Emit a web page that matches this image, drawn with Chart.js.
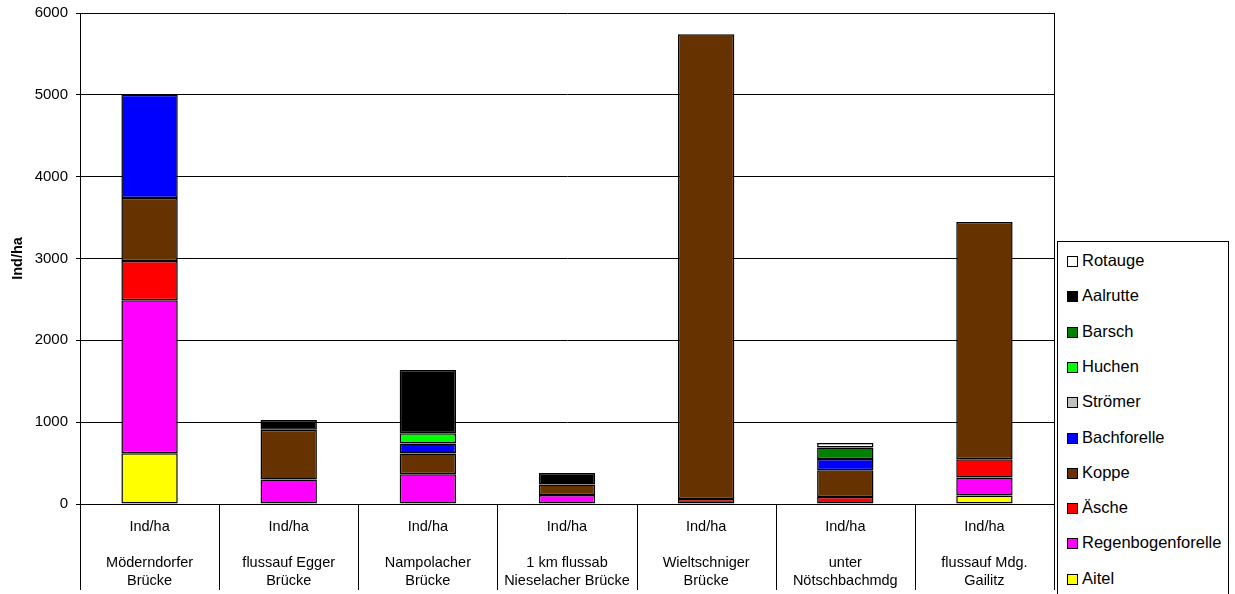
<!DOCTYPE html>
<html>
<head>
<meta charset="utf-8">
<title>Fischbestand Ind/ha</title>
<script src="https://cdn.jsdelivr.net/npm/chart.js@4"></script>
<style>
  html, body { margin: 0; padding: 0; background: #fff; }
  #wrap { position: relative; width: 1235px; height: 594px; overflow: hidden; }
  #legend {
    position: absolute; left: 1057px; top: 241px; width: 172px; height: 370px;
    border: 1px solid #000; box-sizing: border-box; background: #fff;
    font-family: "Liberation Sans", Arial, sans-serif; font-size: 16.5px; color: #000;
  }
  .item { position: absolute; left: 9px; height: 20px; line-height: 20px; white-space: nowrap; }
  .box { display: inline-block; width: 9px; height: 9px; border: 1px solid #000; margin-right: 4px; vertical-align: -1px; }
</style>
</head>
<body>
<div id="wrap">
  <canvas id="fischChart" width="1235" height="594"></canvas>
  <div id="legend"></div>
</div>
<script>
// Probestellen (Kategorien)
const stellen = [
  ["Ind/ha", "", "Möderndorfer", "Brücke"],
  ["Ind/ha", "", "flussauf Egger", "Brücke"],
  ["Ind/ha", "", "Nampolacher", "Brücke"],
  ["Ind/ha", "", "1 km flussab", "Nieselacher Brücke"],
  ["Ind/ha", "", "Wieltschniger", "Brücke"],
  ["Ind/ha", "", "unter", "Nötschbachmdg"],
  ["Ind/ha", "", "flussauf Mdg.", "Gailitz"]
];

// Individuen pro Hektar je Art, von unten nach oben gestapelt
const aitel        = [620, null, null, null, null, null, 103];
const regenbogen   = [1870, 300, 363, 110, null, null, 220];
const aesche       = [480, null, null, null, 61, 86, 224];
const koppe        = [770, 606, 254, 127, 5680, 326, 2900];
const bachforelle  = [1260, null, 122, null, null, 139, null];
const stroemer     = [null, null, null, null, null, null, null];
const huchen       = [null, null, 126, null, null, null, null];
const barsch       = [null, null, null, null, null, 139, null];
const aalrutte     = [null, 119, 771, 142, null, null, null];
const rotauge      = [null, null, null, null, null, 56, null];

const yTicks = [0, 1000, 2000, 3000, 4000, 5000, 6000];

const arten = [
  { label: "Aitel", data: aitel, color: "#FFFF00" },
  { label: "Regenbogenforelle", data: regenbogen, color: "#FF00FF" },
  { label: "Äsche", data: aesche, color: "#FF0000" },
  { label: "Koppe", data: koppe, color: "#663300" },
  { label: "Bachforelle", data: bachforelle, color: "#0000FF" },
  { label: "Strömer", data: stroemer, color: "#C0C0C0" },
  { label: "Huchen", data: huchen, color: "#00FF00" },
  { label: "Barsch", data: barsch, color: "#008000" },
  { label: "Aalrutte", data: aalrutte, color: "#000000" },
  { label: "Rotauge", data: rotauge, color: "#FFFFFF" }
];

const FONT = "'Liberation Sans', Arial, sans-serif";

// Trennlinien zwischen den Probestellen und rechter Rahmen
const rahmenPlugin = {
  id: "rahmen",
  afterDraw(chart) {
    const ctx = chart.ctx;
    const x = chart.scales.x;
    const area = chart.chartArea;
    const half = (x.getPixelForValue(1) - x.getPixelForValue(0)) / 2;
    ctx.save();
    ctx.strokeStyle = "#000";
    ctx.lineWidth = 1;
    ctx.beginPath();
    for (let i = 0; i <= stellen.length; i++) {
      const px = Math.round(x.getPixelForValue(i) - half) + 0.5;
      ctx.moveTo(px, area.bottom);
      ctx.lineTo(px, 590);
    }
    const r = Math.round(area.right) + 0.5;
    ctx.moveTo(r, area.top);
    ctx.lineTo(r, area.bottom);
    ctx.stroke();
    ctx.restore();
  }
};

const ctx = document.getElementById("fischChart").getContext("2d");
new Chart(ctx, {
  type: "bar",
  data: {
    labels: stellen,
    datasets: arten.map((a) => ({
      label: a.label,
      data: a.data,
      backgroundColor: a.color,
      borderColor: "#000",
      borderWidth: 1.5,
      borderSkipped: false,
      barPercentage: 0.405,
      categoryPercentage: 1.0
    }))
  },
  options: {
    responsive: false,
    animation: false,
    layout: { padding: { left: 0, top: 13, right: 181, bottom: 0 } },
    plugins: {
      legend: { display: false },
      tooltip: { enabled: false }
    },
    scales: {
      x: {
        stacked: true,
        offset: true,
        grid: { display: false, drawTicks: false },
        border: { display: true, color: "#000", width: 1 },
        ticks: {
          color: "#000",
          padding: 14,
          maxRotation: 0,
          autoSkip: false,
          font: { family: FONT, size: 14.5, lineHeight: "18px" }
        },
        afterFit(scale) { scale.height = 90; }
      },
      y: {
        stacked: true,
        min: 0,
        max: 6000,
        afterBuildTicks(scale) { scale.ticks = yTicks.map((v) => ({ value: v })); },
        grid: { color: "#000", lineWidth: 1, tickLength: 4 },
        border: { display: true, color: "#000", width: 1 },
        ticks: {
          color: "#000",
          padding: 8,
          font: { family: FONT, size: 15 },
          callback: (v) => String(v)
        },
        title: {
          display: true,
          text: "Ind/ha",
          color: "#000",
          padding: { top: 9, bottom: 0 },
          font: { family: FONT, size: 14.5, weight: "bold" }
        },
        afterFit(scale) {
          scale.width = 80;
          scale.paddingTop = 0;
          scale.paddingBottom = 0;
        }
      }
    }
  },
  plugins: [rahmenPlugin]
});

// Legende, oberste Art zuerst
const legend = document.getElementById("legend");
arten.slice().reverse().forEach((a, i) => {
  const row = document.createElement("div");
  row.className = "item";
  row.style.top = (8 + i * 35.3) + "px";
  const box = document.createElement("span");
  box.className = "box";
  box.style.background = a.color;
  row.appendChild(box);
  row.appendChild(document.createTextNode(a.label));
  legend.appendChild(row);
});
</script>
</body>
</html>
